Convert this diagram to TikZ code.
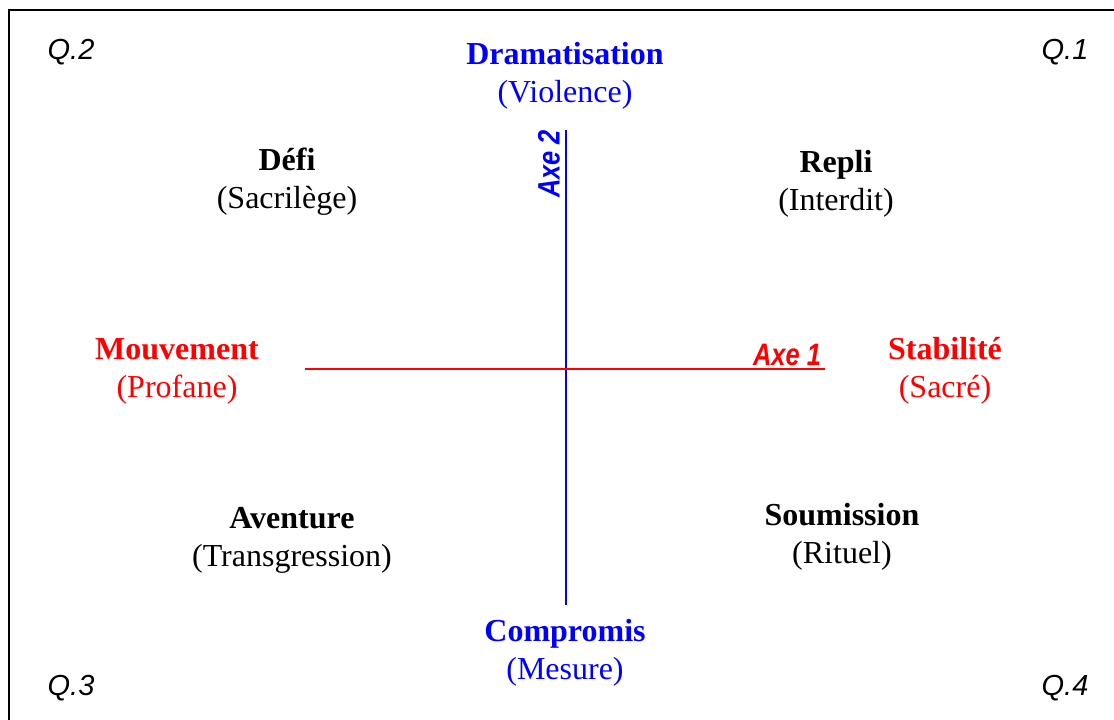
\documentclass[tikz,border=0pt]{standalone}
\usepackage{fontspec}
\setmainfont{Liberation Serif}
\setsansfont{Liberation Sans}
\definecolor{pblue}{RGB}{0,0,255}
\definecolor{pred}{RGB}{255,0,0}
\newcommand{\axetext}[1]{\scalebox{0.82}[1]{#1}}
\begin{document}
\begin{tikzpicture}[x=1pt,y=-1pt,
  lbl/.style={align=center,inner sep=0pt,font=\fontsize{32}{38}\selectfont},
  quad/.style={inner sep=0pt,font=\sffamily\itshape\fontsize{29}{34}\selectfont},
  axelbl/.style={inner sep=0pt,font=\sffamily\bfseries\itshape\fontsize{31}{34}\selectfont}]
\useasboundingbox (0,0) rectangle (1114,720);
\draw[line width=2pt] (9,730) -- (9,10) -- (1124,10);
% axes
\coordinate (vt) at (566,130);
\coordinate (vb) at (566,605);
\coordinate (hl) at (305,369);
\coordinate (hr) at (825,369);
\draw[pblue,line width=1.6pt] (vt) -- (vb);
\draw[pred,line width=1.6pt] (hl) -- (hr);
\node[axelbl,pblue,rotate=90] (axe2) at (549,164) {\axetext{Axe 2}};
\node[axelbl,pred] (axe1) at (787,355) {\axetext{Axe 1}};
% quadrant labels
\node[quad] (q2) at (71,52) {Q.2};
\node[quad] (q1) at (1065,52) {Q.1};
\node[quad] (q3) at (71,688) {Q.3};
\node[quad] (q4) at (1065,688) {Q.4};
% pole labels
\node[lbl,pblue] (dram) at (565,76) {\textbf{Dramatisation}\\(Violence)};
\node[lbl,pblue] (comp) at (565,653) {\textbf{Compromis}\\(Mesure)};
\node[lbl,pred] (mouv) at (177,371) {\textbf{Mouvement}\\(Profane)};
\node[lbl,pred] (stab) at (945,371) {\textbf{Stabilité}\\(Sacré)};
% quadrant contents
\node[lbl] (defi) at (287,182) {\textbf{Défi}\\(Sacrilège)};
\node[lbl] (repli) at (836,184) {\textbf{Repli}\\(Interdit)};
\node[lbl] (avent) at (292,540) {\textbf{Aventure}\\(Transgression)};
\node[lbl] (soum) at (842,537) {\textbf{Soumission}\\(Rituel)};
\end{tikzpicture}
\end{document}
